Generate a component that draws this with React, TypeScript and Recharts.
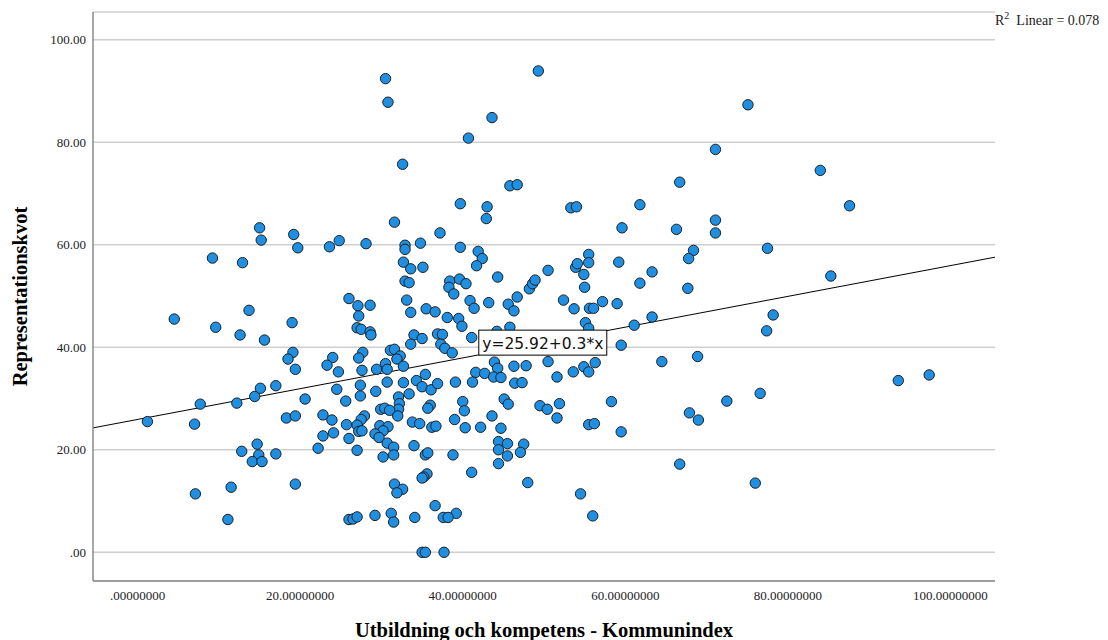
import { ScatterChart, Scatter, XAxis, YAxis, CartesianGrid, ReferenceLine, ReferenceDot, Label } from 'recharts';

// Utbildning och kompetens - Kommunindex (x) per kommun
const kommunindex = [
  4.5, 9.2, 12.9, 15.0, 15.2, 19.2, 19.7, 13.7, 9.6, 12.6, 15.6, 19.0, 19.1, 18.5, 19.4,
  1.2, 7.0, 7.7, 12.2, 14.4, 15.1, 17.0, 20.6, 18.3, 19.4, 14.7, 12.8, 14.9, 14.1, 15.3,
  17.0, 19.4, 7.1, 11.5, 11.1,
  30.5, 30.8, 32.6, 31.6, 37.2, 39.7, 23.6, 24.8, 28.1, 32.9, 32.9, 34.8, 39.7, 32.7, 33.6,
  35.1, 32.9, 33.4, 38.4, 38.3, 38.9, 39.6, 40.4, 26.0, 27.1, 28.6, 27.2, 33.1, 33.6, 35.5,
  36.6, 38.1, 39.5,
  27.0, 27.5, 28.6, 28.7, 34.0, 35.0, 33.6, 36.9, 37.5, 37.3, 37.8, 38.7, 24.0, 23.3, 24.7,
  27.7, 27.2, 27.6, 29.4, 30.5, 30.7, 31.1, 31.6, 32.3, 31.9, 32.7, 24.5, 25.6, 27.4, 27.4,
  29.3, 30.7, 32.7, 34.3, 35.4, 35.0, 36.1, 36.9, 39.1, 33.4, 32.1, 32.2, 32.1, 29.9, 30.4,
  31.0, 32.0, 36.0, 35.7, 40.0, 22.8, 23.9, 25.7, 27.9, 27.5, 27.0, 27.2, 27.6, 29.8, 30.8,
  30.2, 29.2, 29.7, 33.8, 34.7, 36.2, 36.7, 39.0, 22.8, 24.1, 26.0, 30.7, 31.5, 34.0, 22.2,
  27.0, 30.2, 31.5, 35.4, 35.7, 38.8, 35.6, 35.2, 35.0, 31.6, 32.6, 31.9, 36.6, 39.2, 26.0,
  26.5, 27.0, 29.2, 31.2, 31.5, 34.1, 37.6, 38.2, 35.0, 35.4, 37.7,
  49.3, 43.6, 40.7, 45.8, 46.7, 43.0, 42.9, 53.3, 54.0, 41.9, 42.4, 41.7, 44.3, 40.9, 41.4,
  43.2, 45.6, 46.3, 46.7, 48.2, 48.6, 48.9, 50.5, 52.4, 53.7, 53.9, 54.1, 55.5, 55.5, 54.9,
  55.0, 55.6, 56.1, 57.2, 39.9, 45.8, 44.2, 55.1, 55.5,
  41.1, 43.9, 44.3, 46.3, 47.8, 50.5, 41.6, 42.7, 43.8, 44.7, 46.4, 47.3, 51.6, 53.6, 54.9,
  55.5, 56.3, 41.2, 40.2, 45.1, 45.6, 49.5, 50.4, 51.9, 51.6, 40.3, 42.2, 43.6, 44.7, 55.5,
  56.2, 58.3, 44.4, 45.5, 44.4, 45.5, 47.5, 47.1, 44.4, 41.1, 48.0, 54.5, 56.0,
  75.1, 71.1, 84.0, 66.7, 61.8, 87.6, 59.6, 66.3, 71.1, 71.1, 77.5, 68.4, 67.8, 59.2, 63.3,
  61.8, 67.7, 85.3, 59.0, 63.3, 61.1, 78.2, 77.4, 59.5, 68.9, 64.5, 93.6, 97.4, 76.6, 72.5,
  67.9, 69.0, 59.5, 66.7, 76.0,
];

// Representationskvot (y), same order as kommunindex
const representationskvot = [
  45.5, 57.4, 56.5, 63.3, 60.9, 62.0, 59.4, 47.2, 43.9, 42.4, 41.4, 44.8, 39.0, 37.7, 35.7,
  25.5, 25.0, 28.9, 29.1, 30.4, 32.0, 32.5, 29.9, 26.2, 26.6, 21.1, 19.7, 19.0, 17.7, 17.7,
  19.2, 13.3, 11.4, 12.7, 6.4,
  92.4, 87.8, 75.7, 64.4, 62.3, 68.0, 59.6, 60.8, 60.2, 59.9, 59.1, 60.3, 59.5, 56.6, 55.3,
  55.6, 52.9, 52.6, 52.9, 51.7, 50.4, 53.3, 52.4, 49.5, 48.1, 48.2, 46.1, 49.2, 46.8, 47.5,
  46.9, 45.8, 45.6,
  43.8, 43.5, 43.0, 42.4, 42.4, 41.7, 40.6, 42.6, 42.5, 40.6, 39.8, 38.9, 38.0, 36.5, 35.2,
  39.0, 37.9, 35.5, 35.7, 36.8, 35.7, 39.4, 39.6, 38.3, 37.7, 36.3, 31.8, 29.5, 32.6, 30.5,
  31.4, 33.2, 33.1, 33.5, 34.7, 32.3, 31.7, 32.9, 33.2, 30.9, 30.3, 29.0, 27.9, 27.9, 28.1,
  27.7, 26.6, 28.7, 28.1, 29.4, 26.8, 25.8, 24.9, 26.6, 25.9, 24.8, 23.6, 23.7, 24.7, 24.5,
  23.7, 23.1, 22.4, 25.4, 25.1, 24.4, 24.6, 25.9, 22.7, 23.3, 22.2, 21.3, 20.5, 20.8, 20.3,
  19.9, 18.6, 19.0, 19.0, 19.4, 19.0, 15.3, 14.7, 14.5, 13.3, 12.3, 11.6, 9.1, 7.6, 6.4,
  6.5, 6.9, 7.2, 7.6, 5.9, 6.8, 6.8, 6.8, 0, 0, 0,
  93.9, 84.8, 80.8, 71.5, 71.7, 67.4, 65.1, 67.2, 67.4, 58.7, 57.3, 55.9, 53.7, 49.1, 47.6,
  48.7, 48.4, 47.1, 49.8, 51.4, 52.4, 53.1, 55.0, 49.2, 47.5, 55.6, 56.3, 58.1, 56.5, 54.2,
  51.7, 47.6, 47.6, 48.9, 44.1, 43.9, 43.1, 44.8, 43.7,
  41.9, 37.1, 35.9, 36.3, 36.4, 37.2, 35.1, 34.9, 34.2, 34.1, 33.0, 33.1, 34.2, 35.2, 36.2,
  35.2, 37.0, 33.2, 27.6, 29.9, 28.9, 28.6, 27.9, 29.0, 26.2, 24.3, 24.4, 26.6, 24.2, 24.9,
  25.1, 29.4, 21.6, 21.2, 20.0, 18.8, 21.1, 19.5, 17.3, 15.6, 13.6, 11.4, 7.1,
  87.3, 78.6, 74.5, 72.2, 67.8, 67.6, 63.3, 63.0, 64.8, 62.3, 59.3, 58.9, 57.3, 56.6, 54.7,
  52.5, 51.5, 53.9, 48.5, 45.9, 44.3, 46.3, 43.2, 40.4, 38.2, 37.2, 33.5, 34.6, 31.0, 29.5,
  27.2, 25.8, 23.5, 17.2, 13.5,
];

const xTicks = [0, 20, 40, 60, 80, 100];
const yTicks = [0, 20, 40, 60, 80, 100];
const xDomain: [number, number] = [-5.5, 105.5];
const yDomain: [number, number] = [-5.6, 105.4];

// Linear fit shown by SPSS
const fitIntercept = 25.92;
const fitSlope = 0.3;
const rSquared = 0.078;
const fitLabelAt = { x: 49.85, y: 40.9 };

const data = kommunindex.map((x, i) => ({ x, y: representationskvot[i] }));
const fitLine = xDomain.map((x) => ({ x, y: fitIntercept + fitSlope * x }));

const serif = '"Liberation Serif", "Times New Roman", serif';

const Dot = (p: any) => (
  <circle cx={p.cx} cy={p.cy} r={5.2} fill="#1e8fe1" stroke="#1b1f24" strokeWidth={1} />
);

const FitBox = (p: any) => {
  const w = 128;
  const h = 25;
  return (
    <g>
      <rect x={p.cx - w / 2} y={p.cy - h / 2} width={w} height={h} fill="#fff" stroke="#000" strokeWidth={1} />
      <text
        x={p.cx}
        y={p.cy + 1}
        textAnchor="middle"
        dominantBaseline="central"
        fontFamily='"DejaVu Sans", sans-serif'
        fontSize={15.5}
        fill="#111"
      >
        {`y=${fitIntercept}+${fitSlope}*x`}
      </text>
    </g>
  );
};

export default function App() {
  return (
    <div style={{ position: 'absolute', left: 0, top: 0, width: 1108, height: 640, background: '#fff', fontFamily: serif }}>
      <ScatterChart width={1108} height={640} margin={{ top: 12, right: 113, bottom: 0, left: 0 }}>
        <CartesianGrid vertical={false} stroke="#cfcfcf" strokeWidth={1.5} />
        <XAxis
          type="number"
          dataKey="x"
          domain={xDomain}
          ticks={xTicks}
          allowDataOverflow
          height={59}
          axisLine={{ stroke: '#8a8a8a', strokeWidth: 1.5 }}
          tickLine={false}
          tickMargin={4}
          tick={{ fill: '#222', fontSize: 13, fontFamily: serif }}
          tickFormatter={(v: number) => (v === 0 ? '.00000000' : v.toFixed(8))}
        >
          <Label
            content={(props: any) => {
              const vb = props.viewBox || {};
              return (
                <text x={vb.x + vb.width / 2} y={vb.y + 56} textAnchor="middle" fontFamily={serif} fontWeight="bold" fontSize={20.5} fill="#000">
                  Utbildning och kompetens - Kommunindex
                </text>
              );
            }}
          />
        </XAxis>
        <YAxis
          type="number"
          dataKey="y"
          domain={yDomain}
          ticks={yTicks}
          allowDataOverflow
          width={93}
          axisLine={{ stroke: '#8a8a8a', strokeWidth: 1.5 }}
          tickLine={false}
          tickSize={5}
          tick={{ fill: '#222', fontSize: 13, fontFamily: serif }}
          tickFormatter={(v: number) => (v === 0 ? '.00' : v.toFixed(2))}
        >
          <Label
            content={(props: any) => {
              const vb = props.viewBox || {};
              const cx = vb.x + 20;
              const cy = vb.y + vb.height / 2;
              return (
                <text
                  x={cx}
                  y={cy}
                  transform={`rotate(-90, ${cx}, ${cy})`}
                  textAnchor="middle"
                  dominantBaseline="central"
                  fontFamily={serif}
                  fontWeight="bold"
                  fontSize={20.5}
                  fill="#000"
                >
                  Representationskvot
                </text>
              );
            }}
          />
        </YAxis>
        <ReferenceLine
          segment={fitLine}
          stroke="#000"
          strokeWidth={1}
          ifOverflow="visible"
        />
        <Scatter data={data} shape={Dot} isAnimationActive={false} />
        <ReferenceDot x={fitLabelAt.x} y={fitLabelAt.y} shape={FitBox} ifOverflow="visible" />
      </ScatterChart>
      <div style={{ position: 'absolute', left: 995, top: 13, fontSize: 14, color: '#222', whiteSpace: 'nowrap', fontFamily: serif }}>
        R<sup style={{ fontSize: 10, verticalAlign: 'top', position: 'relative', top: -3 }}>2</sup>&nbsp;&nbsp;Linear = {rSquared}
      </div>
    </div>
  );
}
